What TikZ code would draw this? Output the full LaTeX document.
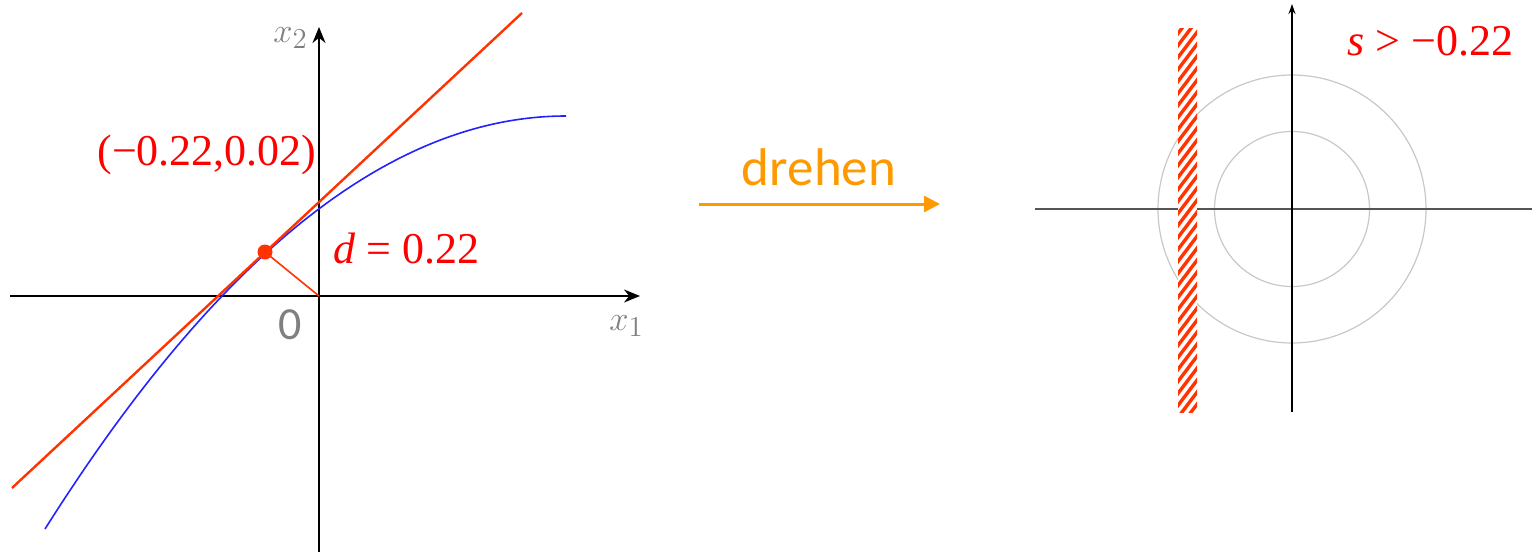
\documentclass[tikz,border=0pt]{standalone}
\usepackage[no-math]{fontspec}
\setmainfont{Liberation Serif}
\newfontfamily\calfont{Carlito}
\usetikzlibrary{arrows.meta}
\definecolor{redtxt}{HTML}{FF0000}
\definecolor{redline}{HTML}{FF3300}
\definecolor{bluecurve}{HTML}{2222FF}
\definecolor{graylbl}{HTML}{808080}
\definecolor{orangearr}{HTML}{FF9900}
\definecolor{circgray}{HTML}{C8C8C8}
\definecolor{axisgray}{HTML}{555555}
\tikzset{
  axisL/.style={line width=1pt, black, -{Stealth[length=8pt,width=6.5pt]}},
  axisRv/.style={line width=0.7pt, black, -{Stealth[length=5pt,width=3.5pt]}},
  axisRh/.style={line width=1pt, axisgray},
  tangent/.style={line width=1.2pt, redline},
  perp/.style={line width=0.8pt, redline},
  curve/.style={line width=0.8pt, bluecurve},
  lvl/.style={line width=0.6pt, circgray},
  redlbl/.style={inner sep=0pt, text=redtxt, font=\fontsize{22}{26}\selectfont},
  graylabel/.style={inner sep=0pt, text=graylbl, font=\fontsize{19}{22}\selectfont},
  turnarrow/.style={line width=1.5pt, orangearr, -{Triangle[length=8pt,width=8pt]}},
  stripe/.style={line width=1.7pt, redline},
}
\begin{document}
\begin{tikzpicture}[x=0.5pt,y=-0.5pt]
\path[use as bounding box] (0,0) rectangle (1532,552);
% ---------- left diagram ----------
\coordinate (O) at (319,296);
\coordinate (xs) at (10,296);
\coordinate (xe) at (640,296);
\coordinate (ys) at (319,552);
\coordinate (ye) at (319,27);
\draw[axisL] (xs) -- (xe);
\draw[axisL] (ys) -- (ye);
\coordinate (b0) at (45,529);
\coordinate (b1) at (566,116);
\draw[curve] (b0) .. controls (218.7,253.7) and (392.3,116) .. (b1);
\coordinate (t0) at (12,488);
\coordinate (t1) at (522,13);
\draw[tangent] (t0) -- (t1);
\node[circle, fill=redline, minimum size=7.5pt, inner sep=0pt] (P) at (265,252) {};
\draw[perp] (P.center) -- (O);
\node[redlbl, anchor=base west] (plbl) at (97,165) {(−0.22,0.02)};
\node[redlbl, anchor=base west] (dlbl) at (333,263) {\textit{d} = 0.22};
\node[graylabel, anchor=base west] (x2lbl) at (273,42) {$x_2$};
\node[graylabel, anchor=base west] (x1lbl) at (609,330) {$x_1$};
\node[inner sep=0pt, text=graylbl, anchor=base, font=\calfont\fontsize{23}{27}\selectfont] (zero) at (290,339) {0};
% ---------- arrow ----------
\coordinate (a0) at (699,204);
\coordinate (a1) at (940,204);
\draw[turnarrow] (a0) -- (a1);
\node[inner sep=0pt, text=orangearr, anchor=base, font=\calfont\fontsize{26.5}{30}\selectfont] (drehen) at (819,185) {drehen};
% ---------- right diagram ----------
\coordinate (O2) at (1292,209);
\draw[lvl] (O2) circle[radius=67pt];
\draw[lvl] (O2) circle[radius=38.75pt];
\coordinate (hs) at (1035,209);
\coordinate (he) at (1532,209);
\draw[axisRh] (hs) -- (he);
\coordinate (vs) at (1292,412);
\coordinate (ve) at (1292,4);
\draw[axisRv] (vs) -- (ve);
\begin{scope}
\clip (1178,28) rectangle (1197,412);
\fill[white] (1178,28) rectangle (1197,412);
\foreach \k in {0,...,40}{
  \draw[stripe] (1170,{440-12*\k}) -- ++(34,-45);
}
\end{scope}
\node[redlbl, anchor=base west] (slbl) at (1347,55) {\textit{s} > −0.22};
\end{tikzpicture}
\end{document}
